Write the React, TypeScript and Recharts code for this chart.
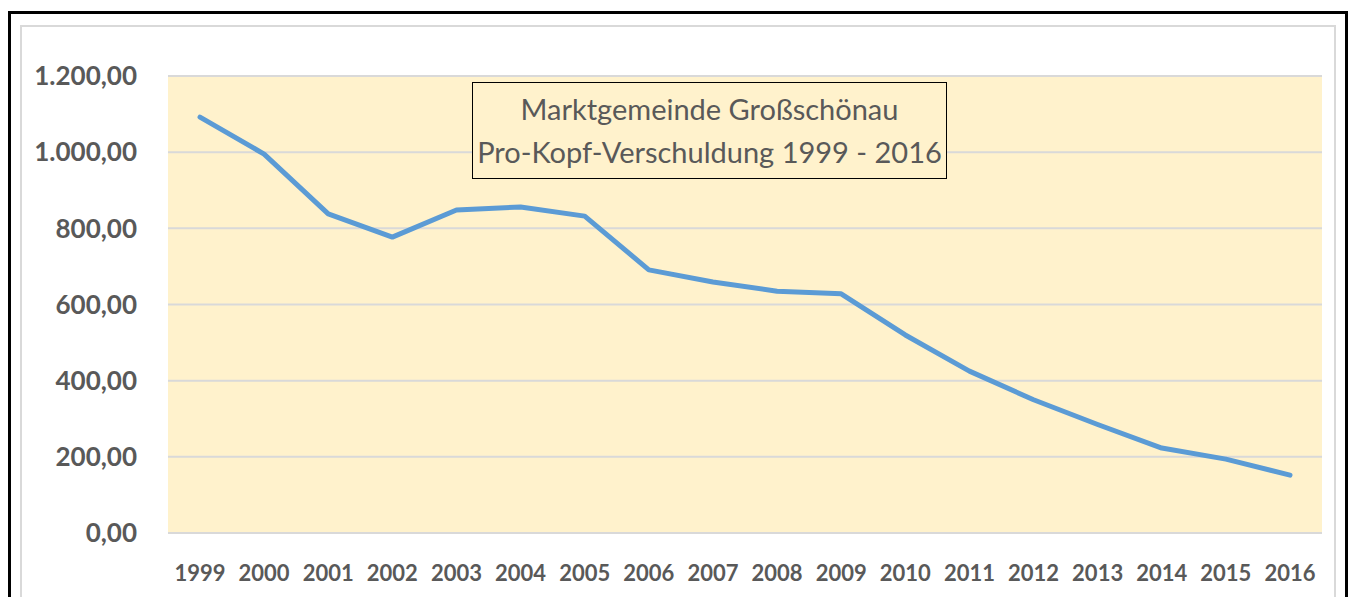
import { LineChart, Line, XAxis, YAxis, CartesianGrid } from "recharts";

const YEARS = [
  "1999", "2000", "2001", "2002", "2003", "2004", "2005", "2006", "2007",
  "2008", "2009", "2010", "2011", "2012", "2013", "2014", "2015", "2016",
];

const DEBT_PER_HEAD = [
  1092, 995, 838, 777, 848, 856, 832, 691, 659,
  635, 628, 520, 425, 350, 285, 223, 194, 152,
];

const Y_TICKS = [0, 200, 400, 600, 800, 1000, 1200];

const TITLE_LINES = ["Marktgemeinde Großschönau", "Pro-Kopf-Verschuldung 1999 - 2016"];

const data = YEARS.map((year, i) => ({ year, value: DEBT_PER_HEAD[i] }));

// 1200 -> "1.200,00"
function formatDe(v: number) {
  const [intPart, dec] = v.toFixed(2).split(".");
  return intPart.replace(/\B(?=(\d{3})+(?!\d))/g, ".") + "," + dec;
}

const FONT = "Lato, 'Open Sans', sans-serif";
const GREY = "#595959";

export default function App() {
  return (
    <div style={{ position: "absolute", left: 0, top: 0, width: 1349, height: 597, overflow: "hidden", background: "#fff" }}>
      {/* outer black frame */}
      <div
        style={{
          position: "absolute",
          left: 8,
          top: 11,
          width: 1340,
          height: 620,
          border: "3px solid #000",
          boxSizing: "border-box",
        }}
      />
      {/* inner chart area border */}
      <div
        style={{
          position: "absolute",
          left: 20,
          top: 25,
          width: 1316,
          height: 600,
          border: "2px solid #D9D9D9",
          boxSizing: "border-box",
        }}
      />
      <div style={{ position: "absolute", left: 0, top: 0 }}>
        <LineChart
          width={1349}
          height={597}
          data={data}
          margin={{ top: 76, right: 27, bottom: 0, left: 8 }}
        >
          <CartesianGrid
            vertical={false}
            stroke="#D9D9D9"
            strokeWidth={2}
            fill="#FFF2CC"
            fillOpacity={1}
          />
          <XAxis
            dataKey="year"
            height={64}
            padding={{ left: 32, right: 32 }}
            axisLine={false}
            tickLine={false}
            tickSize={0}
            tickMargin={32}
            interval={0}
            tick={{ fill: GREY, fontSize: 22, fontWeight: 700, fontFamily: FONT }}
          />
          <YAxis
            width={160}
            domain={[0, 1200]}
            ticks={Y_TICKS}
            axisLine={false}
            tickLine={false}
            tickSize={0}
            tickMargin={31}
            tickFormatter={formatDe}
            tick={{ fill: GREY, fontSize: 26, fontWeight: 700, fontFamily: FONT }}
          />
          <Line
            type="linear"
            dataKey="value"
            stroke="#5B9BD5"
            strokeWidth={5}
            strokeLinecap="round"
            strokeLinejoin="round"
            dot={false}
            activeDot={false}
            isAnimationActive={false}
          />
        </LineChart>
      </div>
      {/* chart title box */}
      <div
        style={{
          position: "absolute",
          left: 472,
          top: 82,
          width: 475,
          height: 97,
          border: "1.5px solid #000",
          boxSizing: "border-box",
          background: "#FFF2CC",
          color: GREY,
          fontFamily: FONT,
          fontSize: 29,
          lineHeight: "43px",
          textAlign: "center",
          paddingTop: 4,
        }}
      >
        {TITLE_LINES.map((t) => (
          <div key={t}>{t}</div>
        ))}
      </div>
    </div>
  );
}
